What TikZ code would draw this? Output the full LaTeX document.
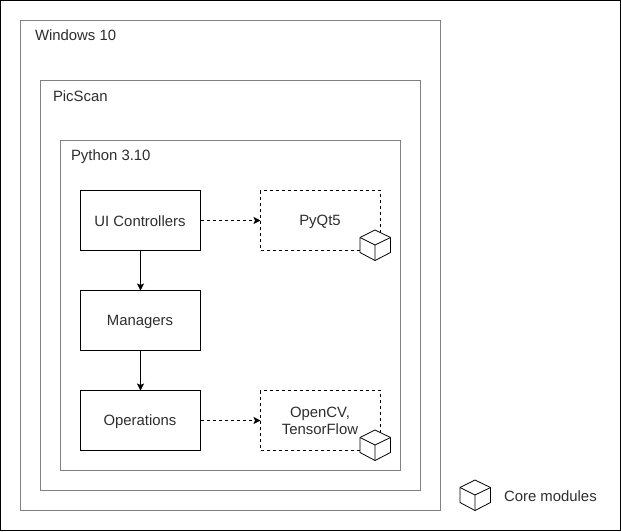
\documentclass[tikz,border=0pt]{standalone}
\usepackage{fontspec}
\setmainfont{Liberation Sans}
\usetikzlibrary{arrows.meta}
\definecolor{framegray}{HTML}{808080}
\definecolor{txt}{HTML}{2E2E2E}
\tikzset{
  x=1pt,y=-1pt,
  every node/.style={font=\fontsize{14.9}{17}\selectfont,text=txt},
  region/.style={draw=framegray,line width=1pt,fill=white,inner sep=0pt,outer sep=0pt},
  block/.style={draw=black,line width=1pt,fill=white,minimum width=120pt,minimum height=60pt,inner sep=0pt,outer sep=0pt,align=center},
  external/.style={block,dash pattern=on 3pt off 3pt},
  caption/.style={anchor=west,inner sep=0pt,outer sep=0pt},
  inlabel/.style={inner sep=0pt,outer sep=0pt,align=center},
  link/.style={line width=1pt,draw=black,-{Stealth[length=7pt,width=7pt,inset=1.5pt]}},
  dashlink/.style={link,dash pattern=on 3pt off 3pt},
  cube/.pic={
    \draw[line width=0.8pt,draw=black,fill=white,line join=round]
      (0,-15) -- (15.5,-7.5) -- (15.5,7.5) -- (0,15.5) -- (-15,7.5) -- (-15,-7.5) -- cycle;
    \draw[line width=0.8pt,draw=black,line join=round] (-15,-7.5) -- (0,0) -- (15.5,-7.5) (0,0) -- (0,15.5);
  }
}
\begin{document}
\begin{tikzpicture}
\useasboundingbox (0,0) rectangle (621,531);
\draw[line width=1pt,draw=black,fill=white] (0.5,0.5) rectangle (620.5,530.5);
\node[region,minimum width=420pt,minimum height=490pt] (win) at (230.5,265.5) {};
\node[region,minimum width=380pt,minimum height=410pt] (pic) at (230.5,285.5) {};
\node[region,minimum width=340pt,minimum height=330pt] (py) at (230.5,305.5) {};
\node[caption] (lwin) at (35,35.5) {Windows 10};
\node[caption] (lpic) at (53,96) {PicScan};
\node[caption] (lpy) at (71,156.5) {Python 3.10};
\node[block] (ui) at (140.5,220.5) {};
\node[block] (mgr) at (140.5,320.5) {};
\node[block] (ops) at (140.5,420.5) {};
\node[external] (qt) at (320.5,220.5) {};
\node[external] (cv) at (320.5,420.5) {};
\node[inlabel] (tui) at (140,221.5) {UI Controllers};
\node[inlabel] (tmgr) at (140,322) {Managers};
\node[inlabel] (tops) at (140,422) {Operations};
\node[inlabel] (tqt) at (320,221.5) {PyQt5};
\node[inlabel] (tcv) at (320,421) {OpenCV,\\TensorFlow};
\draw[link] (ui) -- (mgr);
\draw[link] (mgr) -- (ops);
\draw[dashlink] (ui) -- (qt);
\draw[dashlink] (ops) -- (cv);
\pic at (375,245) {cube};
\pic at (375,445) {cube};
\pic at (475,495) {cube};
\node[caption] (lcore) at (504,496) {Core modules};
\end{tikzpicture}
\end{document}
